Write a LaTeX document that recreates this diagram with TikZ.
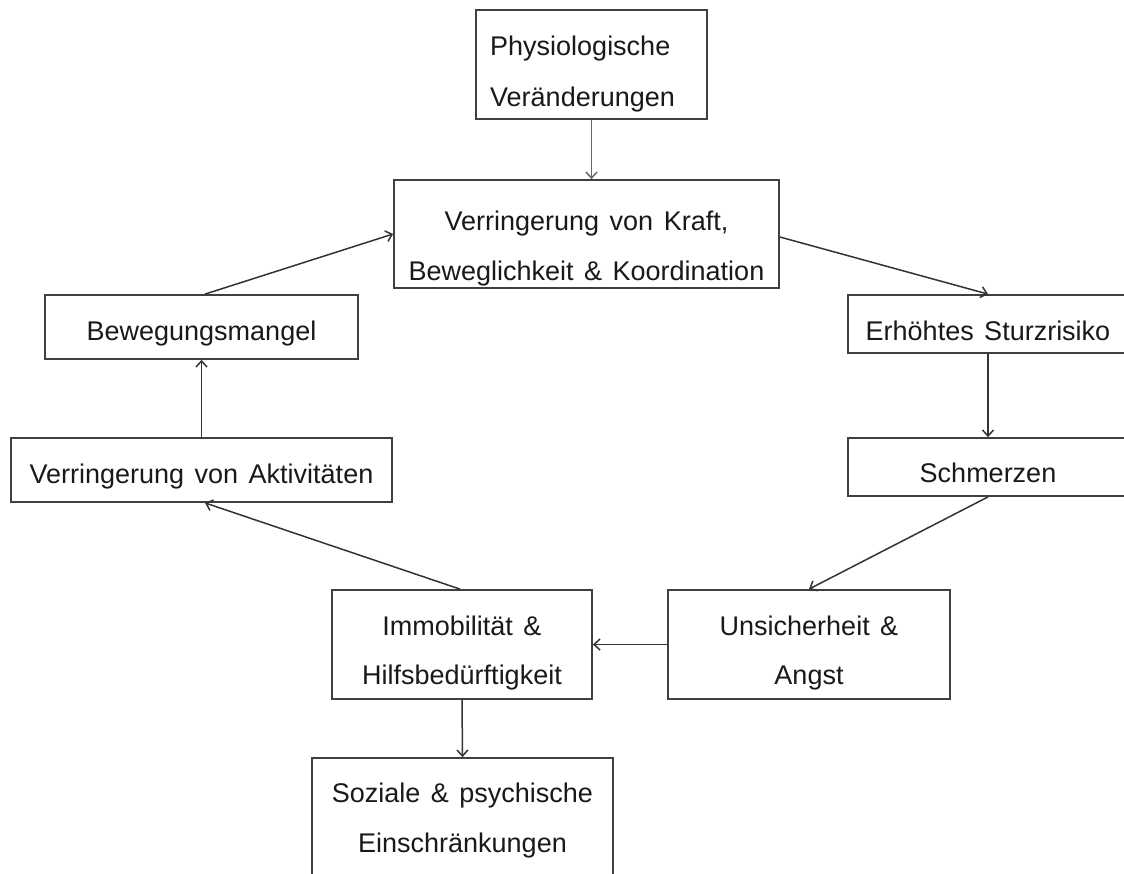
\documentclass[tikz,border=0pt]{standalone}
\usepackage{fontspec}
\setmainfont{Liberation Sans}[WordSpace=1.4]
\usetikzlibrary{arrows.meta}
\begin{document}
\begin{tikzpicture}[x=1pt,y=-1pt,
  box/.style={draw=black!75, line width=1.8pt, inner sep=0pt},
  lbl/.style={font=\fontsize{27}{50}\selectfont, text=black!90, inner sep=0pt, anchor=base},
  arr/.style={-{Straight Barb[length=6pt,width=11pt]}, draw=black!80, line width=1.5pt}]
\useasboundingbox (0,0) rectangle (1124,873);
\clip (0,0) rectangle (1124,873);
\fill[white] (0,0) rectangle (1124,873);
% boxes
\node[box, minimum width=231pt, minimum height=109pt] (physio) at (591.5,64.5) {};
\node[box, minimum width=385pt, minimum height=108pt] (kraft)  at (586.5,234) {};
\node[box, minimum width=313pt, minimum height=64pt]  (bew)    at (201.5,327) {};
\node[box, minimum width=381pt, minimum height=64pt]  (akt)    at (201.5,470) {};
\node[box, minimum width=280pt, minimum height=58pt]  (erh)    at (988,324) {};
\node[box, minimum width=280pt, minimum height=58pt]  (schm)   at (988,467) {};
\node[box, minimum width=282pt, minimum height=109pt] (unsich) at (809,644.5) {};
\node[box, minimum width=260pt, minimum height=109pt] (immob)  at (462,644.5) {};
\node[box, minimum width=301pt, minimum height=120pt] (soz)    at (462.5,818) {};
% texts
\node[lbl, anchor=base west] (t1a) at (490,55) {Physiologische};
\node[lbl, anchor=base west] (t1b) at (490,106) {Veränderungen};
\node[lbl] (t2a) at (586.5,230) {Verringerung von Kraft,};
\node[lbl] (t2b) at (586.5,280) {Beweglichkeit \& Koordination};
\node[lbl] (t3) at (201.5,340) {Bewegungsmangel};
\node[lbl] (t4) at (201.5,483) {Verringerung von Aktivitäten};
\node[lbl] (t5) at (988,340) {Erhöhtes Sturzrisiko};
\node[lbl] (t6) at (988,482) {Schmerzen};
\node[lbl] (t7a) at (809,635) {Unsicherheit \&};
\node[lbl] (t7b) at (809,684) {Angst};
\node[lbl] (t8a) at (462,635) {Immobilität \&};
\node[lbl] (t8b) at (462,684) {Hilfsbedürftigkeit};
\node[lbl] (t9a) at (462.5,802) {Soziale \& psychische};
\node[lbl] (t9b) at (462.5,852) {Einschränkungen};
% connectors
\draw[arr, draw=black!60] (physio.south) -- (kraft.north -| physio.south);
\draw[arr] ([xshift=3.5pt]bew.north) -- (kraft.west);
\draw[arr] ([yshift=-3pt]kraft.east) -- (erh.north);
\draw[arr] (erh.south) -- (schm.north);
\draw[arr] (schm.south) -- (unsich.north);
\draw[arr] (unsich.west) -- (immob.east);
\draw[arr] ([xshift=-2pt]immob.north) -- ([xshift=3.5pt]akt.south);
\draw[arr] (akt.north) -- (bew.south);
\draw[arr] (immob.south) -- (soz.north);
\end{tikzpicture}
\end{document}
